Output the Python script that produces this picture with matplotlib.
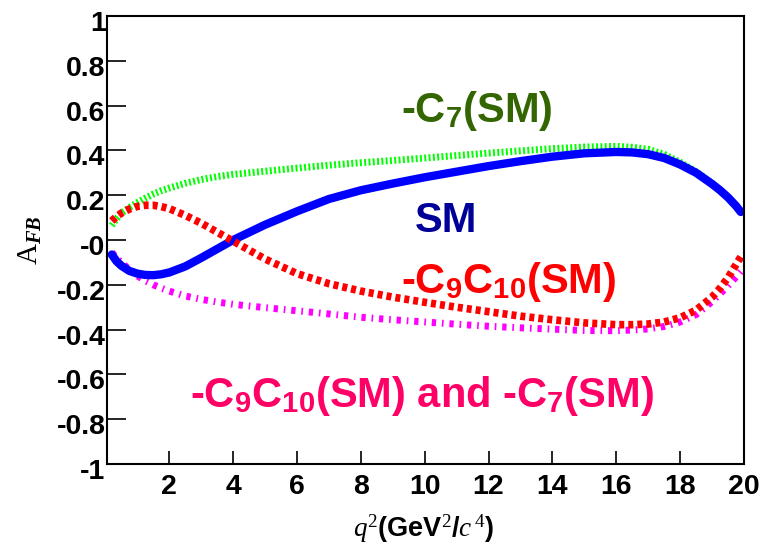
import numpy as np
import matplotlib
matplotlib.use('Agg')
import matplotlib.pyplot as plt
import matplotlib.transforms as mtransforms

plt.rcParams['font.family'] = 'Liberation Sans'
plt.rcParams['mathtext.fontset'] = 'custom'
plt.rcParams['mathtext.rm'] = 'Liberation Serif'
plt.rcParams['mathtext.it'] = 'Liberation Serif:italic'
plt.rcParams['mathtext.bf'] = 'Liberation Sans:bold'
plt.rcParams['mathtext.bfit'] = 'Liberation Serif:italic:bold'
plt.rcParams['lines.scale_dashes'] = False

# q^2 grid (GeV^2/c^4) and A_FB curves
q2 = [0.2, 0.35, 0.5, 0.75, 1.0, 1.25, 1.5, 1.75, 2, 2.5, 3, 3.5, 4, 5, 6, 7,
      8, 9, 10, 11, 12, 13, 14, 15, 16, 16.5, 17, 17.5, 18, 18.5, 19, 19.25,
      19.5, 19.75, 19.9]
afb_sm = [-0.065, -0.095, -0.115, -0.138, -0.15, -0.156, -0.157, -0.153,
          -0.145, -0.118, -0.08, -0.04, 0.0, 0.068, 0.128, 0.183, 0.222,
          0.252, 0.28, 0.305, 0.33, 0.352, 0.372, 0.387, 0.393, 0.391, 0.383,
          0.366, 0.337, 0.3, 0.25, 0.222, 0.19, 0.152, 0.125]
afb_c7 = [0.065, 0.095, 0.12, 0.145, 0.167, 0.187, 0.205, 0.22, 0.232, 0.253,
          0.27, 0.283, 0.293, 0.307, 0.321, 0.334, 0.345, 0.355, 0.366, 0.377,
          0.388, 0.398, 0.408, 0.415, 0.418, 0.414, 0.405, 0.382, 0.347, 0.305,
          0.253, 0.224, 0.192, 0.154, 0.125]
afb_c9c10 = [0.085, 0.105, 0.12, 0.138, 0.15, 0.155, 0.155, 0.149, 0.14, 0.11,
             0.075, 0.035, -0.005, -0.085, -0.15, -0.195, -0.228, -0.255,
             -0.278, -0.30, -0.32, -0.34, -0.356, -0.37, -0.378, -0.378,
             -0.375, -0.366, -0.347, -0.313, -0.255, -0.215, -0.168, -0.11,
             -0.075]
afb_both = [-0.055, -0.08, -0.10, -0.132, -0.16, -0.182, -0.20, -0.215,
            -0.228, -0.25, -0.265, -0.277, -0.287, -0.302, -0.316, -0.33,
            -0.345, -0.356, -0.366, -0.376, -0.385, -0.392, -0.398, -0.404,
            -0.405, -0.402, -0.397, -0.386, -0.366, -0.333, -0.275, -0.24,
            -0.205, -0.165, -0.14]

yticks = [-1, -0.8, -0.6, -0.4, -0.2, 0, 0.2, 0.4, 0.6, 0.8, 1]
ytick_labels = ['-1', '-0.8', '-0.6', '-0.4', '-0.2', '-0', '0.2', '0.4', '0.6', '0.8', '1']
xticks = [2, 4, 6, 8, 10, 12, 14, 16, 18, 20]

fig = plt.figure(figsize=(7.61, 5.46), dpi=100)
ax = fig.add_axes([107/761, 1 - 464/546, 637/761, 448/546])

ax.plot(q2, afb_c7, color='#00ff00', lw=5, dashes=(1.4, 1.7))
ax.plot(q2, afb_both, color='#ff00ff', lw=5, dashes=(3.1, 4.2, 1.2, 4.2))
ax.plot(q2, afb_sm, color='#0000ff', lw=6, solid_capstyle='round',
        solid_joinstyle='round')
ax.plot(q2, afb_c9c10, color='#ff0000', lw=5.5, dashes=(3.6, 2.9))

# curve labels
lab = dict(fontsize=30, fontweight='bold', va='baseline', ha='left')
ax.text(9.25, 0.527, r'-C$_{\mathbf{7}}$(SM)', color='#336600', **lab)
ax.text(9.7, 0.036, 'SM', color='#000099', **lab)
ax.text(9.25, -0.237, r'-C$_{\mathbf{9}}$C$_{\mathbf{10}}$(SM)', color='#ff0000', **lab)
ax.text(2.65, -0.746, r'-C$_{\mathbf{9}}$C$_{\mathbf{10}}$(SM) and -C$_{\mathbf{7}}$(SM)',
        color='#ff0066', **lab)

ax.set_xlim(0.05, 20)
ax.set_ylim(-1, 1)
ax.set_xticks(xticks)
ax.set_yticks(yticks)
ax.set_yticklabels(ytick_labels)
ax.tick_params(axis='both', direction='in', width=1.2, labelsize=20.5)
ax.tick_params(axis='y', length=14, pad=1)
ax.tick_params(axis='x', length=9.5, pad=7)
for lbl in ax.get_xticklabels() + ax.get_yticklabels():
    lbl.set_fontweight('bold')
off = mtransforms.ScaledTranslation(0, -5/100, fig.dpi_scale_trans)
for lbl in ax.get_yticklabels():
    lbl.set_transform(lbl.get_transform() + off)
for s in ax.spines.values():
    s.set_linewidth(1.5)

fig.text(30/761, 1 - 240/546, r'$\mathrm{A}_{\mathbfit{FB}}$', rotation=90,
         fontsize=21, ha='center', va='center')
fig.text(424/761, 1 - 537/546, r'$\mathit{q}^{2}$(GeV$^{2}$/$\mathit{c}^{\,4}$)',
         fontsize=19.5, fontweight='bold', ha='center', va='baseline')

fig.savefig('out.png', dpi=100)
